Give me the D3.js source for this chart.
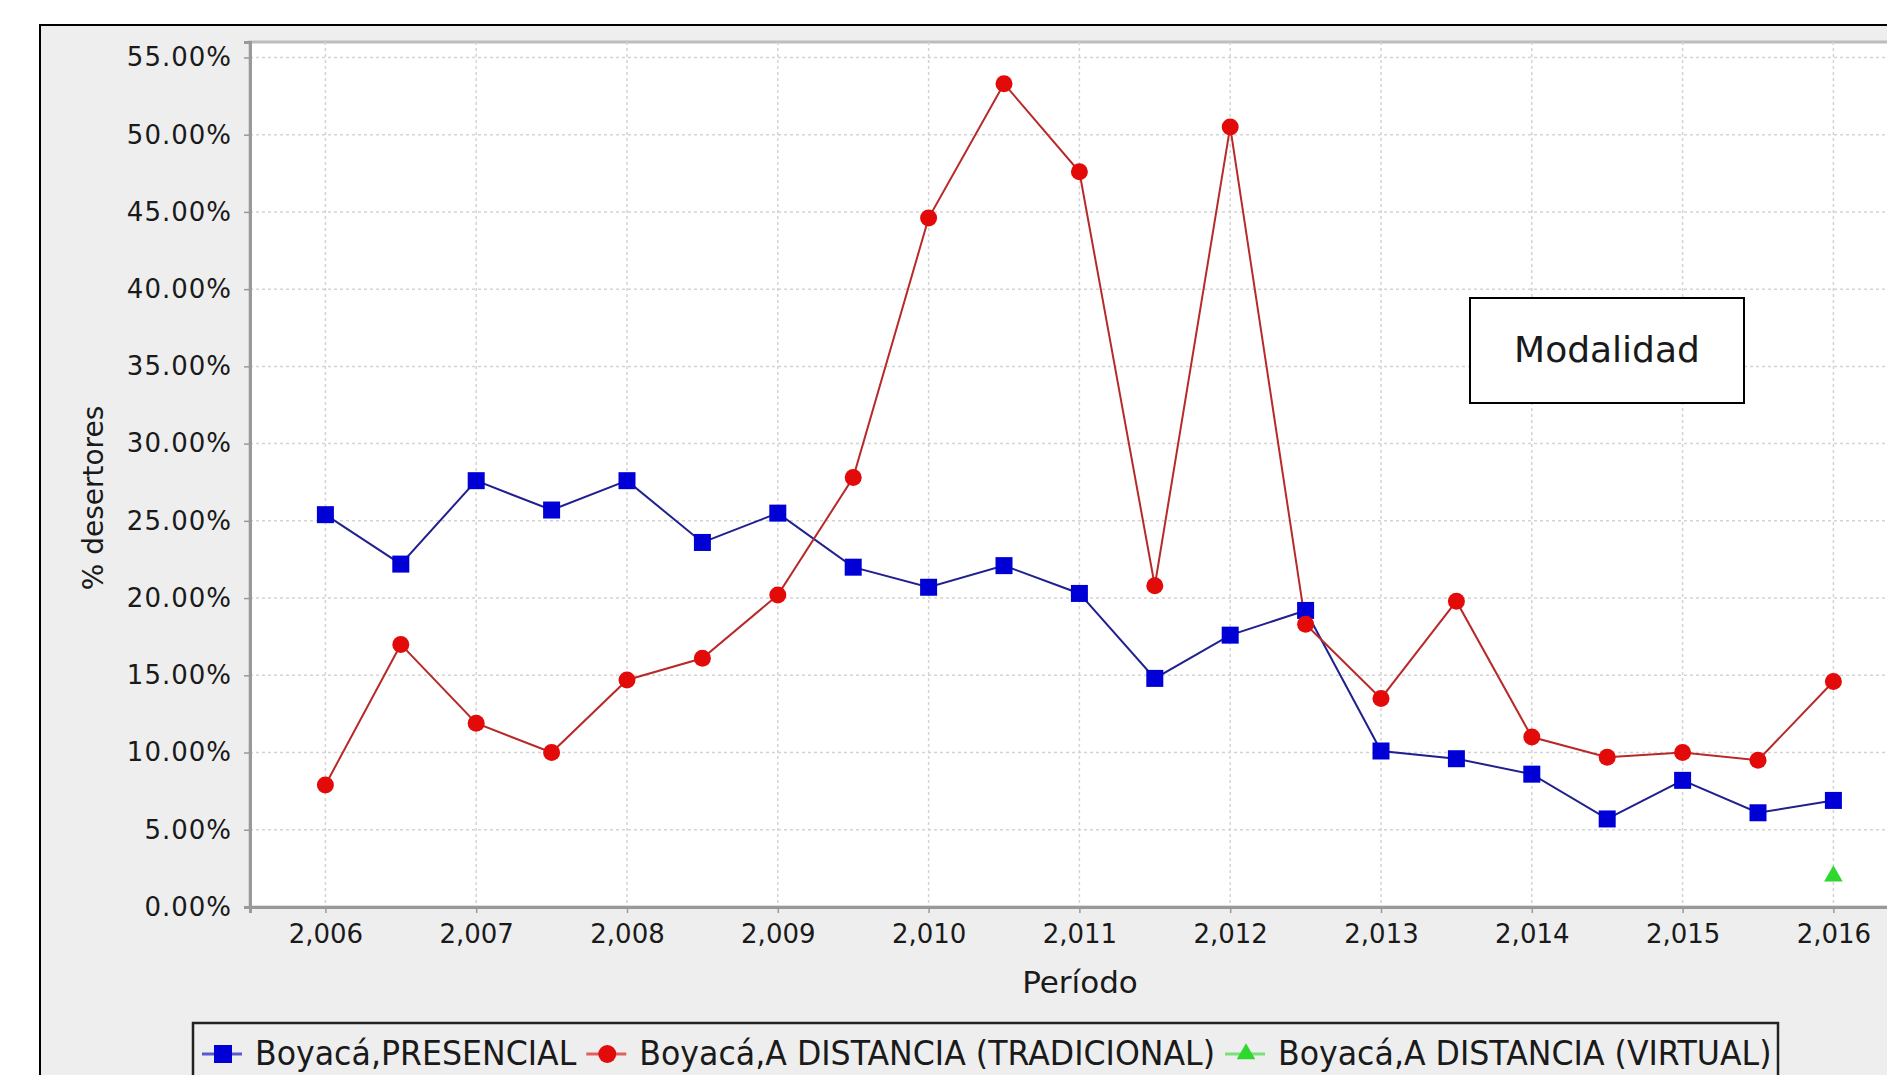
<!DOCTYPE html>
<html>
<head>
<meta charset="utf-8">
<script src="https://cdn.jsdelivr.net/npm/d3@7"></script>
<style>
  body { margin: 0; background: #fff; }
  svg { display: block; }
  text { font-family: "DejaVu Sans", sans-serif; fill: #1a1a1a; }
</style>
</head>
<body>
<svg id="chart" width="1887" height="1075"></svg>
<script>
// periods (half-year steps), values in %
const periods = [2006, 2006.5, 2007, 2007.5, 2008, 2008.5, 2009, 2009.5, 2010, 2010.5,
                 2011, 2011.5, 2012, 2012.5, 2013, 2013.5, 2014, 2014.5, 2015, 2015.5, 2016]
const presencial = [25.4, 22.2, 27.6, 25.7, 27.6, 23.6, 25.5, 22.0, 20.7, 22.1,
                    20.3, 14.8, 17.6, 19.2, 10.1, 9.6, 8.6, 5.7, 8.2, 6.1, 6.9]
const tradicional = [7.9, 17.0, 11.9, 10.0, 14.7, 16.1, 20.2, 27.8, 44.6, 53.3,
                     47.6, 20.8, 50.5, 18.3, 13.5, 19.8, 11.0, 9.7, 10.0, 9.5, 14.6]
const virtualPeriods = [2016]
const virtual = [2.0]
const xTicks = [2006, 2007, 2008, 2009, 2010, 2011, 2012, 2013, 2014, 2015, 2016]
const yTicks = [0, 5, 10, 15, 20, 25, 30, 35, 40, 45, 50, 55]
const seriesNames = ['Boyacá,PRESENCIAL', 'Boyacá,A DISTANCIA (TRADICIONAL)', 'Boyacá,A DISTANCIA (VIRTUAL)']

const svg = d3.select('#chart')
const margin = { top: 42, left: 250, bottom: 907 }

// outer panel
svg.append('rect').attr('x', 40).attr('y', 25).attr('width', 1900).attr('height', 1100)
  .attr('fill', '#eeeeee').attr('stroke', '#000').attr('stroke-width', 2)

const xScale = d3.scaleLinear().domain([2005.5, 2016.5]).range([margin.left, margin.left + 11 * 150.8])
const yScale = d3.scaleLinear().domain([0, 56]).range([margin.bottom, margin.top])

// plot background
svg.append('rect')
  .attr('x', xScale(2005.5)).attr('y', yScale(56))
  .attr('width', xScale(2016.5) - xScale(2005.5)).attr('height', yScale(0) - yScale(56))
  .attr('fill', '#fff').attr('stroke', '#bdbdbd').attr('stroke-width', 3)

// gridlines
svg.append('g').selectAll('line').data(xTicks).join('line')
  .attr('x1', d => xScale(d)).attr('x2', d => xScale(d))
  .attr('y1', yScale(56)).attr('y2', yScale(0))
  .attr('stroke', '#d4d4d4').attr('stroke-width', 1.5).attr('stroke-dasharray', '3,3')
svg.append('g').selectAll('line').data(yTicks.slice(1)).join('line')
  .attr('x1', xScale(2005.5)).attr('x2', xScale(2016.5))
  .attr('y1', d => yScale(d)).attr('y2', d => yScale(d))
  .attr('stroke', '#d4d4d4').attr('stroke-width', 1.5).attr('stroke-dasharray', '3,3')

// axes
const yAxis = d3.axisLeft(yScale).tickValues(yTicks).tickSize(6).tickPadding(12)
  .tickFormat(d => d3.format('.2f')(d) + '%')
const gy = svg.append('g').attr('transform', `translate(${margin.left},0)`).call(yAxis)
gy.select('.domain').attr('stroke', '#999').attr('stroke-width', 3)
gy.selectAll('.tick line').attr('stroke', '#999').attr('stroke-width', 1.5)
gy.selectAll('.tick text').attr('font-size', 26).attr('letter-spacing', 1)
  .attr('font-family', '"DejaVu Sans", sans-serif').attr('fill', '#1a1a1a')

const xAxis = d3.axisBottom(xScale).tickValues(xTicks).tickSize(6).tickPadding(12)
  .tickFormat(d3.format(','))
const gx = svg.append('g').attr('transform', `translate(0,${margin.bottom})`).call(xAxis)
gx.select('.domain').attr('stroke', '#999').attr('stroke-width', 3)
gx.selectAll('.tick line').attr('stroke', '#999').attr('stroke-width', 1.5)
gx.selectAll('.tick text').attr('font-size', 26)
  .attr('font-family', '"DejaVu Sans", sans-serif').attr('fill', '#1a1a1a')

// axis titles
svg.append('text').attr('x', 1080).attr('y', 993).attr('text-anchor', 'middle')
  .attr('font-size', 31).text('Período')
svg.append('text').attr('transform', 'translate(103,498) rotate(-90)').attr('text-anchor', 'middle')
  .attr('font-size', 28).text('% desertores')

// series
const line = d3.line().x(d => xScale(d[0])).y(d => yScale(d[1]))
const blueData = periods.map((p, i) => [p, presencial[i]])
const redData = periods.map((p, i) => [p, tradicional[i]])
const greenData = virtualPeriods.map((p, i) => [p, virtual[i]])

svg.append('path').datum(blueData).attr('d', line)
  .attr('fill', 'none').attr('stroke', '#20208f').attr('stroke-width', 2)
svg.append('path').datum(redData).attr('d', line)
  .attr('fill', 'none').attr('stroke', '#b82a2a').attr('stroke-width', 2)

const sq = 17
svg.append('g').selectAll('rect').data(blueData).join('rect')
  .attr('x', d => xScale(d[0]) - sq / 2).attr('y', d => yScale(d[1]) - sq / 2)
  .attr('width', sq).attr('height', sq).attr('fill', '#0000d6')
svg.append('g').selectAll('circle').data(redData).join('circle')
  .attr('cx', d => xScale(d[0])).attr('cy', d => yScale(d[1])).attr('r', 8.5)
  .attr('fill', '#e30a0a')
const tri = d3.symbol().type(d3.symbolTriangle).size(150)
svg.append('g').selectAll('path').data(greenData).join('path')
  .attr('transform', d => `translate(${xScale(d[0])},${yScale(d[1])})`)
  .attr('d', tri).attr('fill', '#2fd82f')

// annotation box
svg.append('rect').attr('x', 1470).attr('y', 298).attr('width', 274).attr('height', 105)
  .attr('fill', '#fff').attr('stroke', '#000').attr('stroke-width', 2)
svg.append('text').attr('x', 1607).attr('y', 362).attr('text-anchor', 'middle')
  .attr('font-family', '"Open Sans", sans-serif').attr('font-size', 36).attr('fill', '#000')
  .text('Modalidad')

// legend
const legend = svg.append('g')
legend.append('rect').attr('x', 193).attr('y', 1023).attr('width', 1585).attr('height', 80)
  .attr('fill', '#eeeeee').attr('stroke', '#222').attr('stroke-width', 2.5)
const legendColors = ['#0000d6', '#e30a0a', '#2fd82f']
const lineColors = ['#5a5ad0', '#e06060', '#7ae07a']
const squeeze = 0.93
let lx = 202
seriesNames.forEach((name, i) => {
  const cy = 1054
  legend.append('line').attr('x1', lx).attr('x2', lx + 40).attr('y1', cy).attr('y2', cy)
    .attr('stroke', lineColors[i]).attr('stroke-width', 3)
  const cx = lx + 21
  if (i === 0) legend.append('rect').attr('x', cx - 9).attr('y', cy - 9).attr('width', 18).attr('height', 18).attr('fill', legendColors[i])
  else if (i === 1) legend.append('circle').attr('cx', cx).attr('cy', cy).attr('r', 9).attr('fill', legendColors[i])
  else legend.append('path').attr('transform', `translate(${cx},${cy})`).attr('d', tri).attr('fill', legendColors[i])
  const t = legend.append('text').attr('transform', `translate(${lx + 53},1065) scale(${squeeze},1)`)
    .attr('font-size', 34).text(name)
  lx = lx + 53 + t.node().getComputedTextLength() * squeeze + 10
})
</script>
</body>
</html>
